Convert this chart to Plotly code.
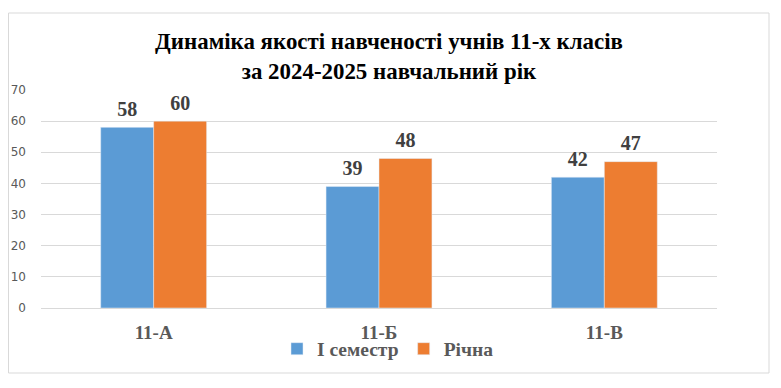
import plotly.graph_objects as go

categories = ["11-А", "11-Б", "11-В"]
semester1 = [58, 39, 42]
annual = [60, 48, 47]
series_names = ["І семестр", "Річна"]
y_ticks = [0, 10, 20, 30, 40, 50, 60, 70]

serif = "Times New Roman, Liberation Serif, serif"
# page body has an 8px margin, so the figure is drawn 8px in and down
OFF = 8
W, H = 781 - OFF, 388 - OFF
L, R, T, B = 41 - OFF, 781 - 717, 90 - OFF, 388 - 308
pw, ph = W - L - R, H - T - B
ybase = H - B  # pixel y of zero line in figure coords
LABEL_PAD = 1.4  # extra gap (axis units) between bar top and its value label


def px_x(x):
    return (x - OFF - L) / pw


def px_y(y):
    return (ybase - (y - OFF)) / ph


fig = go.Figure()
for i, (name, vals, col) in enumerate([(series_names[0], semester1, "#5B9BD5"),
                                       (series_names[1], annual, "#ED7D31")]):
    fig.add_trace(go.Bar(
        x=categories, y=vals, name=name, marker_color=col,
        offsetgroup=str(i),
    ))
    # transparent spacer carrying the value labels
    fig.add_trace(go.Bar(
        x=categories, y=[LABEL_PAD] * len(vals), base=vals,
        marker=dict(color="rgba(0,0,0,0)", line=dict(width=0)),
        offsetgroup=str(i), showlegend=False, hoverinfo="skip",
        text=vals, texttemplate="%{text}", textposition="outside", cliponaxis=False,
        textfont=dict(family=serif, size=20, color="#404040", weight="bold"),
    ))

fig.update_layout(
    width=W, height=H,
    margin=dict(l=L, r=R, t=T, b=B),
    paper_bgcolor="white", plot_bgcolor="white",
    barmode="group", bargap=0.53, bargroupgap=0,
    title=dict(
        text="<b>Динаміка якості навченості учнів 11-х класів<br>за 2024-2025 навчальний рік</b>",
        x=(389 - OFF) / W, xanchor="center", y=1 - 41 / H, yanchor="middle",
        font=dict(family=serif, size=22.9, color="#000000"),
    ),
    xaxis=dict(
        showgrid=False, showline=False, ticks="", automargin=False,
        tickfont=dict(family=serif, size=19, color="#595959", weight="bold"),
        ticklabelstandoff=11,
    ),
    yaxis=dict(
        range=[0, 70], tickvals=y_ticks, showgrid=True, gridcolor="#D9D9D9",
        gridwidth=1, zeroline=True, zerolinecolor="#D9D9D9", zerolinewidth=1,
        showline=False, ticks="", automargin=False,
        tickfont=dict(family="Verdana, DejaVu Sans, sans-serif", size=12, color="#595959"),
        ticklabelstandoff=14,
    ),
    legend=dict(
        orientation="h", x=px_x(277), xanchor="left",
        y=px_y(349), yanchor="middle", bgcolor="rgba(0,0,0,0)",
        font=dict(family=serif, size=19.5, color="#595959", weight="bold"),
        itemwidth=30, traceorder="normal",
    ),
    showlegend=True,
)

fig.add_shape(
    type="rect", xref="paper", yref="paper",
    x0=(0.5 - L) / pw, x1=px_x(769),
    y0=px_y(373), y1=px_y(13),
    line=dict(color="#D9D9D9", width=1), fillcolor="rgba(0,0,0,0)", layer="below",
)

fig.write_html("out.html")
